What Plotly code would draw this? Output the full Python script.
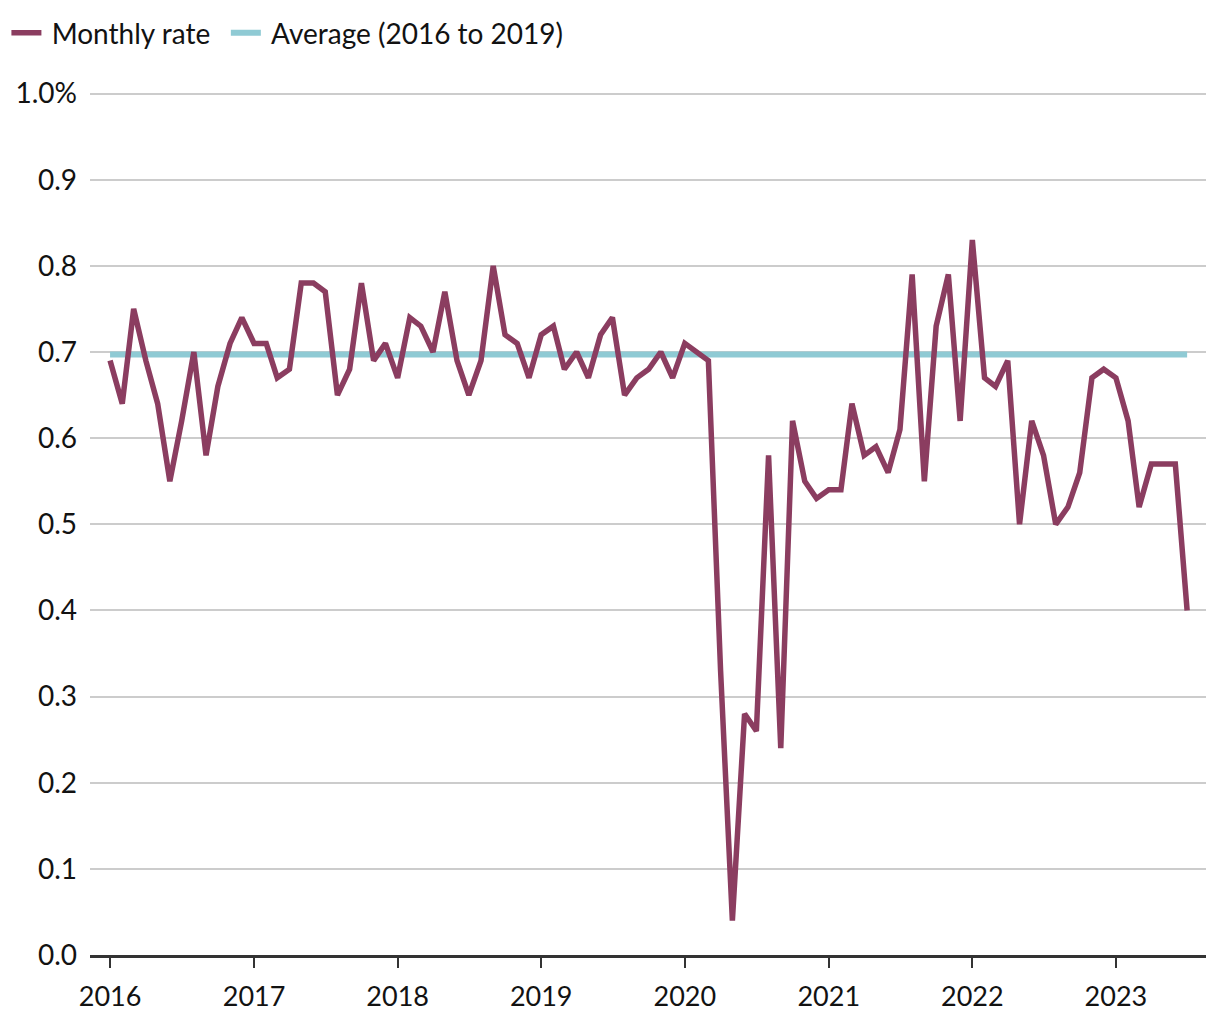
import plotly.graph_objects as go
import pandas as pd

# Monthly dates Jan 2016 .. Jul 2023
months = pd.date_range("2016-01-01", "2023-07-01", freq="MS").strftime("%Y-%m-%d").tolist()

rate_2016 = [0.69, 0.64, 0.75, 0.69, 0.64, 0.55, 0.62, 0.70, 0.58, 0.66, 0.71, 0.74]
rate_2017 = [0.71, 0.71, 0.67, 0.68, 0.78, 0.78, 0.77, 0.65, 0.68, 0.78, 0.69, 0.71]
rate_2018 = [0.67, 0.74, 0.73, 0.70, 0.77, 0.69, 0.65, 0.69, 0.80, 0.72, 0.71, 0.67]
rate_2019 = [0.72, 0.73, 0.68, 0.70, 0.67, 0.72, 0.74, 0.65, 0.67, 0.68, 0.70, 0.67]
rate_2020 = [0.71, 0.70, 0.69, 0.33, 0.04, 0.28, 0.26, 0.58, 0.24, 0.62, 0.55, 0.53]
rate_2021 = [0.54, 0.54, 0.64, 0.58, 0.59, 0.56, 0.61, 0.79, 0.55, 0.73, 0.79, 0.62]
rate_2022 = [0.83, 0.67, 0.66, 0.69, 0.50, 0.62, 0.58, 0.50, 0.52, 0.56, 0.67, 0.68]
rate_2023 = [0.67, 0.62, 0.52, 0.57, 0.57, 0.57, 0.40]

monthly_rate = rate_2016 + rate_2017 + rate_2018 + rate_2019 + rate_2020 + rate_2021 + rate_2022 + rate_2023
average_2016_2019 = 0.697

y_tick_vals = [0.0, 0.1, 0.2, 0.3, 0.4, 0.5, 0.6, 0.7, 0.8, 0.9, 1.0]
y_tick_text = ["0.0", "0.1", "0.2", "0.3", "0.4", "0.5", "0.6", "0.7", "0.8", "0.9", "1.0%"]
x_tick_vals = ["2016-01-01", "2017-01-01", "2018-01-01", "2019-01-01", "2020-01-01",
               "2021-01-01", "2022-01-01", "2023-01-01"]
x_tick_text = ["2016", "2017", "2018", "2019", "2020", "2021", "2022", "2023"]

LINE_COLOR = "#8b3d60"
AVG_COLOR = "#8fcad4"
FONT = "Lato"
TXT = "#121212"

fig = go.Figure()
fig.add_trace(go.Scatter(
    x=[months[0], months[-1]], y=[average_2016_2019, average_2016_2019],
    mode="lines", name="\u2009\u200aAverage (2016 to 2019)",
    line=dict(color=AVG_COLOR, width=6), legendrank=2, hoverinfo="skip"))
fig.add_trace(go.Scatter(
    x=months, y=monthly_rate, mode="lines", name="\u2009\u200aMonthly rate\u00a0\u2009",
    line=dict(color=LINE_COLOR, width=5.5), legendrank=1))

fig.update_layout(
    width=1212, height=1012,
    margin=dict(l=82, r=14, t=83, b=65, autoexpand=False),
    paper_bgcolor="white", plot_bgcolor="white",
    font=dict(family=FONT, size=28, color=TXT),
    showlegend=True,
    legend=dict(orientation="h", x=-0.0749, xanchor="left", y=1.067, yanchor="middle",
                font=dict(family=FONT, size=28, color=TXT),
                bgcolor="rgba(0,0,0,0)", itemwidth=30, traceorder="normal"),
)
fig.update_xaxes(
    type="date", range=["2015-11-11", "2023-08-18"],
    tickvals=x_tick_vals, ticktext=x_tick_text,
    showgrid=False, zeroline=False,
    showline=True, linecolor="#333333", linewidth=2.5,
    ticks="outside", ticklen=10, tickwidth=1.5, tickcolor="#333333",
    ticklabelstandoff=6,
    tickfont=dict(family=FONT, size=27, color=TXT),
)
fig.update_yaxes(
    range=[0, 1.003], tickvals=y_tick_vals, ticktext=y_tick_text,
    showgrid=True, gridcolor="#cccccc", gridwidth=1.5,
    zeroline=False, showline=False, ticks="",
    ticklabelstandoff=12,
    tickfont=dict(family=FONT, size=28, color=TXT),
)

fig.write_html("out.html")
